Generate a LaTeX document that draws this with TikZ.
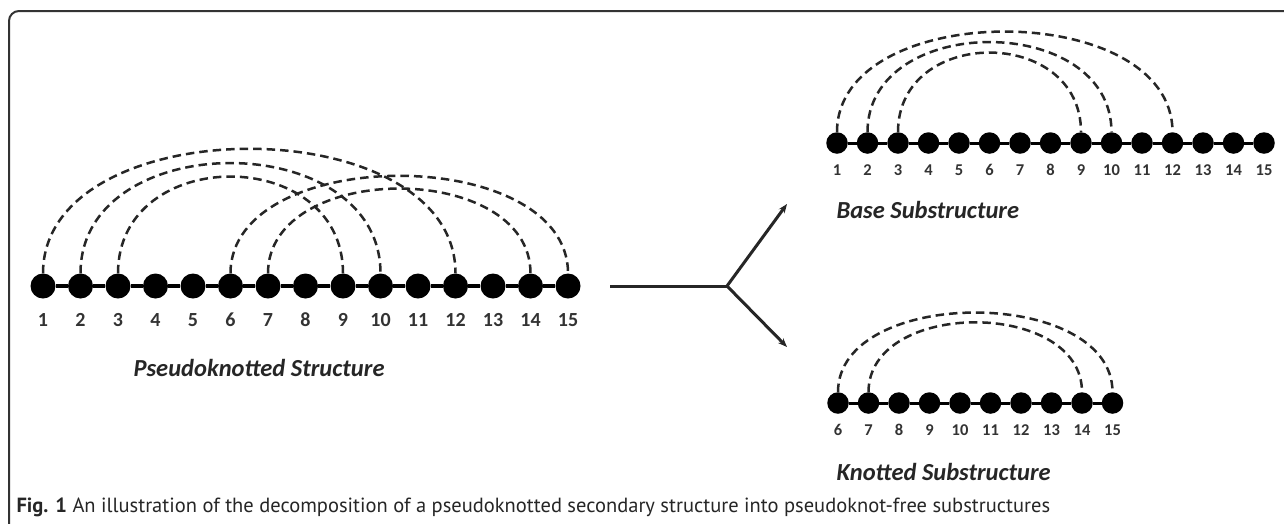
\documentclass[tikz,border=0pt]{standalone}
\usepackage{fontspec}
\setmainfont{PT Sans}
\newfontfamily\labelfont{Carlito}
\usetikzlibrary{arrows.meta}

% dashed base-pair arc between the tops of two dots, control arm length #3
\newcommand\pairarc[3]{\draw[pair] (#1.north) .. controls +(0,-#3) and +(0,-#3) .. (#2.north);}

\begin{document}
\begin{tikzpicture}[x=1pt,y=-1pt,
  bigdot/.style={circle,fill=black,inner sep=0pt,minimum size=25pt},
  smalldot/.style={circle,fill=black,inner sep=0pt,minimum size=21.5pt},
  bigbone/.style={line width=4pt},
  smallbone/.style={line width=3pt},
  pair/.style={line width=2.5pt,dash pattern=on 8.5pt off 5pt,draw=black!85},
  bignum/.style={font=\labelfont\bfseries\fontsize{20}{20}\selectfont,text=black!80},
  smallnum/.style={font=\labelfont\bfseries\fontsize{16.5}{16.5}\selectfont,text=black!80},
  title/.style={font=\labelfont\bfseries\itshape\fontsize{24.5}{24.5}\selectfont,anchor=west,text=black!85},
  split/.style={line width=3pt,draw=black!85},
  tip/.style={-{Stealth[length=9pt,width=7pt]}}
]
\useasboundingbox (0,0) rectangle (1284,523);
\clip (0,0) rectangle (1284,523);
\fill[white] (0,0) rectangle (1284,523);

% frame
\draw[line width=2pt,black!80,rounded corners=10pt] (9,540) |- (1300,11);

% pseudoknotted structure
\foreach \i in {1,...,15} {
  \node[bigdot] (P\i) at ({43+37.5*(\i-1)},286) {};
  \node[bignum] (PL\i) at ({43+37.5*(\i-1)},320) {\i};
}
\foreach \i [evaluate=\i as \j using int(\i+1)] in {1,...,14}
  \draw[bigbone] (P\i) -- (P\j);
\pairarc{P1}{P12}{166}
\pairarc{P2}{P10}{147}
\pairarc{P3}{P9}{129}
\pairarc{P6}{P15}{130}
\pairarc{P7}{P14}{113}
\node[title] (PT) at (130,368) {Pseudoknotted Structure};

% base substructure
\foreach \i in {1,...,15} {
  \node[smalldot] (B\i) at ({837+30.5*(\i-1)},143) {};
  \node[smallnum] (BL\i) at ({837+30.5*(\i-1)},170) {\i};
}
\foreach \i [evaluate=\i as \j using int(\i+1)] in {1,...,14}
  \draw[smallbone] (B\i) -- (B\j);
\pairarc{B1}{B12}{134}
\pairarc{B2}{B10}{120}
\pairarc{B3}{B9}{106}
\node[title] (BT) at (833,210) {Base Substructure};

% knotted substructure
\foreach \i in {6,...,15} {
  \node[smalldot] (K\i) at ({838+30.5*(\i-6)},403) {};
  \node[smallnum] (KL\i) at ({838+30.5*(\i-6)},430) {\i};
}
\foreach \i [evaluate=\i as \j using int(\i+1)] in {6,...,14}
  \draw[smallbone] (K\i) -- (K\j);
\pairarc{K6}{K15}{106}
\pairarc{K7}{K14}{93}
\node[title] (KT) at (833,472) {Knotted Substructure};

% decomposition arrows
\coordinate (S) at (610,286);
\coordinate (J) at (727,286);
\coordinate (U) at (787,204);
\coordinate (D) at (787,347);
\draw[split] (S) -- (J);
\draw[split,tip] (J) -- (U);
\draw[split,tip] (J) -- (D);

% caption
\node[anchor=west,text=black!85,font=\fontsize{20.5}{20.5}\selectfont] (CAP) at (13,507)
  {\textbf{Fig. 1} An illustration of the decomposition of a pseudoknotted secondary structure into pseudoknot-free substructures};
\end{tikzpicture}
\end{document}
